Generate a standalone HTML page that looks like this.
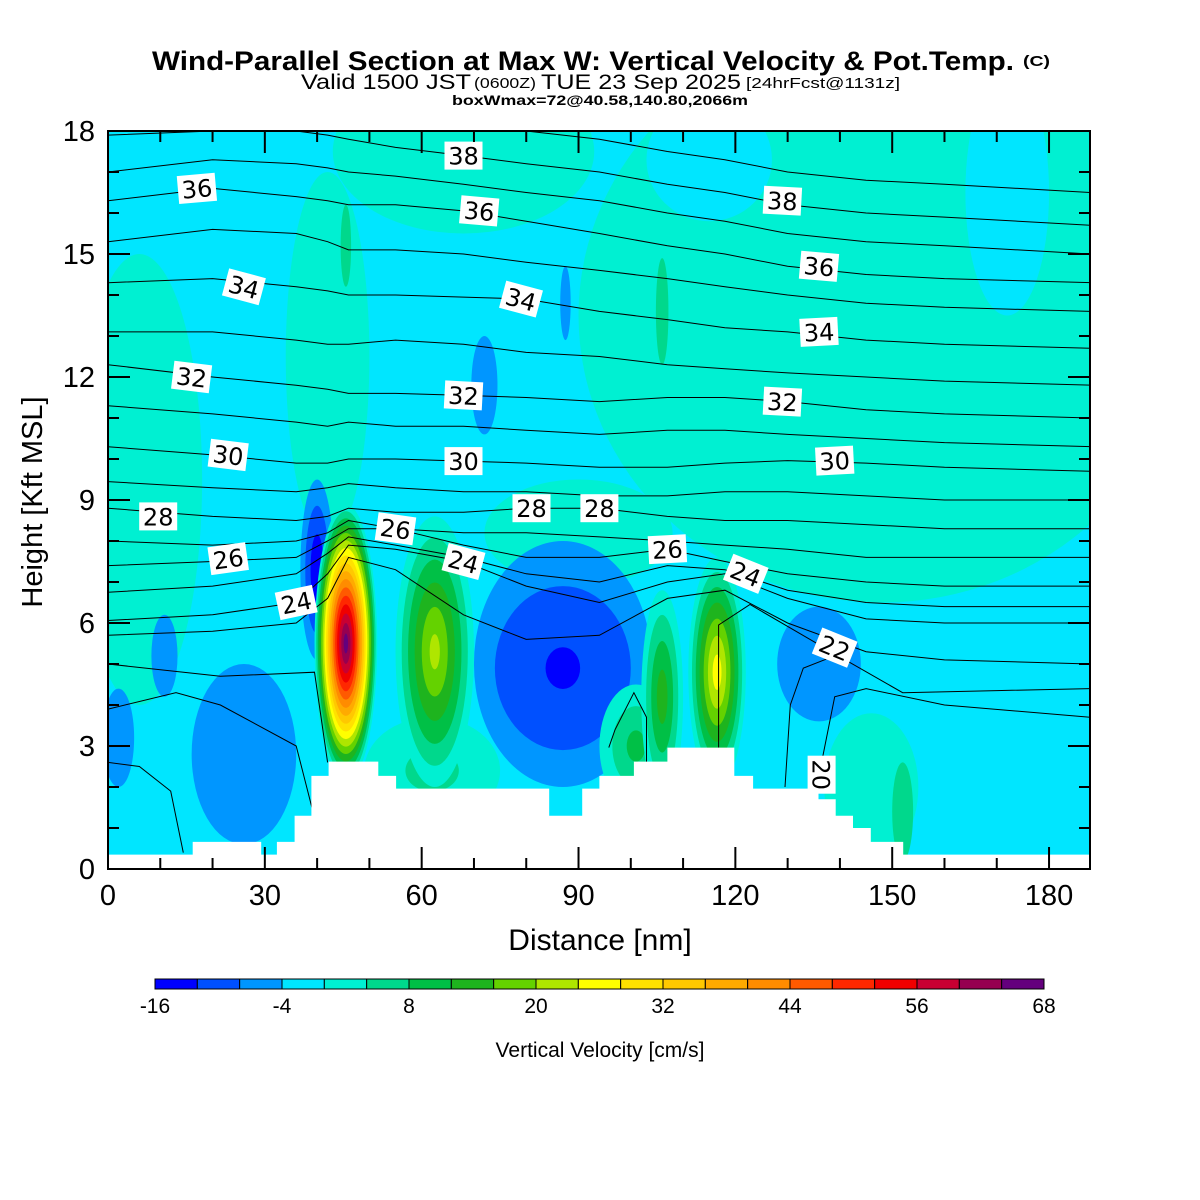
<!DOCTYPE html>
<html><head><meta charset="utf-8"><title>Wind-Parallel Section</title>
<style>html,body{margin:0;padding:0;background:#fff;}svg{display:block;font-family:"Liberation Sans",Arial,sans-serif;}</style>
</head><body>
<svg id="chart" width="1200" height="1200" viewBox="0 0 1200 1200" xmlns="http://www.w3.org/2000/svg">
<rect x="0" y="0" width="1200" height="1200" fill="#fff"/>
<g>
<text x="152" y="70" font-size="27" font-weight="bold" textLength="862" lengthAdjust="spacingAndGlyphs">Wind-Parallel Section at Max W: Vertical Velocity &amp; Pot.Temp.</text>
<text x="1023" y="66" font-size="15" font-weight="bold" textLength="27" lengthAdjust="spacingAndGlyphs">(C)</text>
<text x="301" y="89" font-size="21" textLength="170" lengthAdjust="spacingAndGlyphs">Valid 1500 JST</text>
<text x="474" y="88" font-size="15" textLength="62" lengthAdjust="spacingAndGlyphs">(0600Z)</text>
<text x="541" y="89" font-size="21" textLength="200" lengthAdjust="spacingAndGlyphs">TUE 23 Sep 2025</text>
<text x="746" y="88" font-size="15" textLength="154" lengthAdjust="spacingAndGlyphs">[24hrFcst@1131z]</text>
<text x="452" y="105" font-size="14" font-weight="bold" textLength="296" lengthAdjust="spacingAndGlyphs">boxWmax=72@40.58,140.80,2066m</text>
</g>
<defs><clipPath id="plotclip"><rect x="108" y="131" width="982" height="738"/></clipPath></defs>
<g id="plot" clip-path="url(#plotclip)">
<rect x="108" y="131" width="982" height="738" fill="#00e6ff"/>
<g id="fills"></g>
<g id="thetas"></g>
<g id="terrain"></g>
<g id="labels"></g>
</g>
<rect x="108" y="131" width="982" height="738" fill="none" stroke="#000" stroke-width="2"/>
<g id="ticks"></g>
<g id="xlabels"></g>
<g id="ylabels"></g>
<text x="600" y="950" font-size="30" text-anchor="middle">Distance [nm]</text>
<text transform="translate(42,502) rotate(-90)" font-size="29" text-anchor="middle">Height [Kft MSL]</text>
<g id="colorbar"></g>
<text x="600" y="1057" font-size="21" text-anchor="middle">Vertical Velocity [cm/s]</text>
</svg>
<script>
// ---- data ----
var levelColors = ['#0000ff','#0050ff','#0096ff','#00e6ff','#00f0d2','#00d88c','#00c046','#1eb41e','#64d200','#afe600','#ffff00','#ffe100','#ffc800','#ffaa00','#ff8c00','#ff5a00','#ff2800','#f00000','#c80032','#960050','#64007d'];
var colorbarTicks = [-16,-4,8,20,32,44,56,68];
var xTicks = [0,30,60,90,120,150,180];
var yTicks = [0,3,6,9,12,15,18];
// velocity features (nm, kft, radii, peak cm/s, surrounding value)
var blobX    = [6,   68,  148, 42,  90,  146, 62,  115, 172, 45.5,106, 152, 87.5,72,  26,  2,   10.8,136, 40,  87,  87,  101, 106, 62.5,116.5,45.5];
var blobY    = [9.5, 17.5,13.5,12.5,8.2, 2.0, 2.4, 17.3,16.5,15.2,13.6,1.4, 13.8,11.8,2.8, 3.2, 5.2, 5.0, 7.3, 5.0, 4.9, 3.0, 4.2, 5.3, 4.8,  5.5];
var blobRX   = [12,  25,  58,  8,   18,  9,   13,  12,  8,   1,   1.2, 2,   1,   2.5, 10,  3,   2.5, 8,   3.2, 17,  13,  7,   4,   7.5, 5.5,  6];
var blobRY   = [5.5, 2.0, 7,   4.5, 1.3, 1.8, 1.3, 1.5, 3,   1,   1.3, 1.2, 0.9, 1.2, 2.2, 1.2, 1,   1.4, 2.2, 3.0, 2.0, 1.5, 2.6, 3.3, 2.8,  3.4];
var blobPeak = [2,   2,   2,   2,   2,   2,   6,   -2,  -2,  6,   6,   7,   -6,  -6,  -6,  -6,  -6,  -6,  -16, -6,  -13, 10,  15,  22,  27,   67];
var blobBase = [-2,  -2,  -2,  -2,  -2,  -2,  -2,  2,   2,   2,   2,   2,   -2,  -2,  -2,  -2,  -2,  -2,  -2,  -2,  -6,  -2,  -2,  -2,  -2,   -2];
// theta contours: heights (kft) at x nodes (nm)
var thetaNodes = [0,20,36,42,46,55,68,80,94,107,118,130,145,160,188];
var thetaLevels = [39,38,37,36,35,34,33,32,31,30,29,28,27,26,25,24,23];
var thetaHeights = [
 [18.8,18.8,18.8,18.7,18.6,18.4,18.2,18.0,17.8,17.5,17.3,17.0,16.8,16.7,16.5],
 [17.9,18.0,18.0,17.9,17.8,17.6,17.4,17.2,17.0,16.7,16.5,16.2,16.0,15.9,15.7],
 [17.0,17.3,17.2,17.1,17.0,16.9,16.7,16.5,16.3,16.0,15.8,15.5,15.3,15.2,15.0],
 [16.3,16.6,16.4,16.3,16.2,16.2,16.05,15.8,15.5,15.2,15.0,14.7,14.5,14.4,14.3],
 [15.3,15.6,15.5,15.3,15.1,15.1,15.0,14.8,14.6,14.4,14.2,14.0,13.8,13.7,13.6],
 [14.3,14.4,14.2,14.1,14.0,14.0,13.95,13.9,13.6,13.4,13.2,13.1,12.9,12.8,12.7],
 [13.1,13.1,12.9,12.8,12.8,12.9,12.8,12.6,12.5,12.3,12.2,12.1,12.0,11.9,11.8],
 [12.3,12.0,11.8,11.7,11.6,11.6,11.55,11.5,11.4,11.5,11.5,11.4,11.2,11.1,11.0],
 [11.3,11.1,10.9,10.8,10.9,10.8,10.8,10.7,10.6,10.7,10.7,10.6,10.5,10.4,10.3],
 [10.3,10.1,9.9,9.9,10.0,10.0,9.95,9.9,9.8,9.8,9.9,9.96,9.9,9.8,9.7],
 [9.45,9.3,9.2,9.3,9.4,9.3,9.2,9.2,9.1,9.1,9.2,9.2,9.1,9.0,9.0],
 [8.8,8.6,8.5,8.6,8.8,8.7,8.7,8.8,8.8,8.6,8.5,8.5,8.4,8.3,8.3],
 [8.0,7.9,8.0,8.2,8.5,8.3,8.2,8.2,8.1,8.0,7.9,7.8,7.6,7.6,7.6],
 [7.4,7.5,7.6,8.0,8.3,8.3,7.9,7.6,7.6,7.8,7.5,7.2,7.0,6.9,6.9],
 [6.75,6.9,7.2,7.7,8.1,7.9,7.6,7.2,7.0,7.4,7.3,6.8,6.5,6.4,6.4],
 [6.06,6.2,6.5,7.2,7.9,7.8,7.5,6.9,6.5,7.0,7.2,6.6,6.1,6.0,6.0],
 [5.7,5.8,6.0,6.6,7.6,7.3,6.2,5.6,5.7,6.6,6.8,6.0,5.3,5.1,5.0]
];
// partial contours near terrain
var partialX = [[0,21.5,39.5,42],[0,13,21.5,36,39],[0,6,12,14.4],[116.8,116.8,122.8,139,152,170,188],[136.5,139,145,160,188],[95.8,97,100.6,103,103],[129.5,130.5,133,139]];
var partialH = [[5.0,4.7,4.8,2.6],[3.9,4.3,4.0,3.0,1.5],[2.6,2.5,1.9,0.4],[2.96,5.95,6.45,5.25,4.3,4.35,4.4],[2.6,4.2,4.4,4.0,3.7],[2.96,3.4,4.3,3.7,2.6],[2.0,4.0,4.9,5.2]];
// terrain steps: start nm and height kft
var terrainX = [0,16.2,29.3,32.3,35.7,38.9,42.2,51.7,55.1,84.4,90.7,94,100.6,107,119.8,123.4,135.9,139.2,142.5,145.9,152.1];
var terrainH = [0.35,0.66,0.35,0.66,1.3,2.27,2.62,2.27,1.96,1.3,1.96,2.27,2.62,2.96,2.27,1.96,1.7,1.3,1.0,0.66,0.35];
// contour labels
var labelText = ['38','36','36','38','36','34','34','34','32','32','32','30','30','30','28','28','28','26','26','26','24','24','24','22','20'];
var labelX    = [68,17,71,129,136,26,79,136,16,68,129,23,68,139,9.6,81,94,23,55,107,36,68,122,139,136.5];
var labelY    = [17.4,16.6,16.05,16.3,14.7,14.2,13.9,13.1,12.0,11.55,11.4,10.1,9.95,9.96,8.6,8.8,8.8,7.57,8.3,7.8,6.5,7.5,7.2,5.4,2.3];
var labelRot  = [0,-5,5,3,5,15,15,-3,7,3,3,7,0,-3,0,0,0,-8,8,-3,-12,15,22,22,90];

// ---- scales ----
function sx(nm){ return 108 + nm*5.228; }
function sy(k){ return 869 - k*41; }
var NS='http://www.w3.org/2000/svg';
function mk(tag, attrs, parent){ var e=document.createElementNS(NS,tag); for(var a in attrs) e.setAttribute(a, attrs[a]); parent.appendChild(e); return e; }

// fills
var fills=document.getElementById('fills');
for (var i=0;i<blobX.length;i++){
  var base=blobBase[i], peak=blobPeak[i], bs=[];
  for (var k=0;k<=21;k++){ var b=-16+4*k; if ((b>base&&b<peak)||(b<base&&b>peak)) bs.push(k); }
  if (peak<base) bs.reverse();
  if (!bs.length) continue;
  var b0=-16+4*bs[0];
  for (var j=0;j<bs.length;j++){
    var kk=bs[j], bb=-16+4*kk;
    var frac=(peak-bb)/(peak-b0);
    frac=Math.pow(frac,0.85);
    var ci = peak>base ? kk : kk-1;
    ci=Math.max(0,Math.min(20,ci));
    var e=mk('ellipse',{cx:sx(blobX[i]),cy:sy(blobY[i]),rx:blobRX[i]*5.228*frac,ry:blobRY[i]*41*frac,fill:levelColors[ci]},fills);
    
    
  }
}
// theta lines
var th=document.getElementById('thetas');
for (var i=0;i<thetaLevels.length;i++){
  var d='';
  for (var j=0;j<thetaNodes.length;j++) d+=(j?'L':'M')+sx(thetaNodes[j]).toFixed(1)+','+sy(thetaHeights[i][j]).toFixed(1);
  var p=mk('path',{d:d,fill:'none',stroke:'#000','stroke-width':1},th);
  
  
}
for (var i=0;i<partialX.length;i++){
  var d='';
  for (var j=0;j<partialX[i].length;j++) d+=(j?'L':'M')+sx(partialX[i][j]).toFixed(1)+','+sy(partialH[i][j]).toFixed(1);
  var p=mk('path',{d:d,fill:'none',stroke:'#000','stroke-width':1},th);
  
  
}
// terrain
var d='M'+sx(0)+','+sy(-1);
for (var i=0;i<terrainX.length;i++){
  var x0=sx(terrainX[i]), x1=sx(i+1<terrainX.length?terrainX[i+1]:190);
  d+='L'+x0.toFixed(1)+','+sy(terrainH[i]).toFixed(1)+'L'+x1.toFixed(1)+','+sy(terrainH[i]).toFixed(1);
}
d+='L'+sx(190)+','+sy(-1)+'Z';
var tp=mk('path',{d:d,fill:'#fff',stroke:'none'},document.getElementById('terrain'));


// labels
var lg=document.getElementById('labels');
for (var i=0;i<labelText.length;i++){
  var g=mk('g',{transform:'translate('+sx(labelX[i]).toFixed(1)+','+sy(labelY[i]).toFixed(1)+') rotate('+labelRot[i]+')'},lg);
  
  
  mk('rect',{x:-19,y:-14,width:38,height:28,fill:'#fff'},g);
  var t=mk('text',{x:0,y:9,'font-size':24,'text-anchor':'middle','font-family':'"DejaVu Sans","Liberation Sans",sans-serif','font-weight':'normal',fill:'#000'},g);
  t.textContent=labelText[i];
}
// ticks
var tg=document.getElementById('ticks');
function line(x1,y1,x2,y2,w){ var l=mk('line',{x1:x1,y1:y1,x2:x2,y2:y2,stroke:'#000','stroke-width':w},tg);   }
for (var v=0; v<=187; v+=10){
  var major=(v%30===0), L=major?22:11, x=sx(v);
  line(x,869,x,869-L,2); line(x,131,x,131+L,2);
}
for (var v=0; v<=18; v+=1){
  var major=(v%3===0), L=major?22:11, y=sy(v);
  line(108,y,108+L,y,2); line(1090,y,1090-L,y,2);
}
var xl=document.getElementById('xlabels');
for (var i=0;i<xTicks.length;i++){
  var t=mk('text',{x:sx(xTicks[i]),y:905,'font-size':29,'text-anchor':'middle'},xl);
  
  
  t.textContent=xTicks[i];
}
var yl=document.getElementById('ylabels');
for (var i=0;i<yTicks.length;i++){
  var t=mk('text',{x:95,y:sy(yTicks[i])+10,'font-size':29,'text-anchor':'end'},yl);
  
  
  t.textContent=yTicks[i];
}
// colorbar
var cb=document.getElementById('colorbar');
var cw=889/levelColors.length;
for (var i=0;i<levelColors.length;i++){
  var r=mk('rect',{x:(155+i*cw).toFixed(2),y:979,width:cw.toFixed(2),height:10,fill:levelColors[i],stroke:'#000','stroke-width':1},cb);
  
  
}
for (var i=0;i<colorbarTicks.length;i++){
  var t=mk('text',{x:(155+(colorbarTicks[i]+16)/4*cw).toFixed(1),y:1013,'font-size':21,'text-anchor':'middle'},cb);
  
  
  t.textContent=colorbarTicks[i];
}
</script>
</body></html>
